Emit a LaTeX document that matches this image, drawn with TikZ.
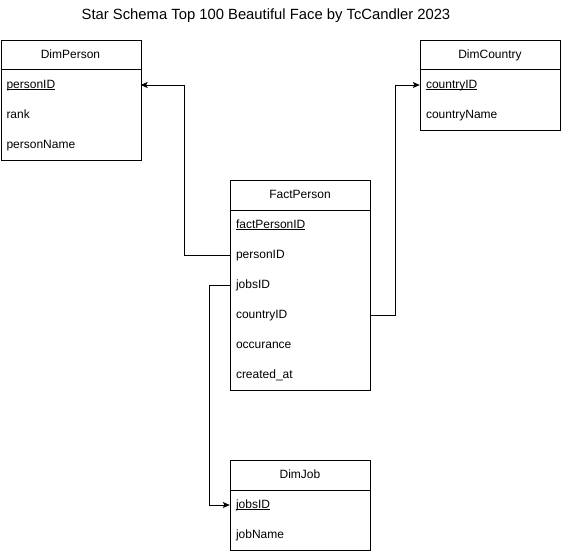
\documentclass[tikz,border=0pt]{standalone}
\usepackage{fontspec}
\setmainfont{Liberation Sans}
\usetikzlibrary{arrows.meta}
\tikzset{
  tbl/.style={draw=black, line width=1pt, fill=white, inner sep=0pt, minimum width=140pt, anchor=north west},
  hdr/.style={inner sep=0pt, minimum width=140pt, minimum height=30pt, text height=9pt, text depth=2.6pt, font=\fontsize{12}{14}\selectfont},
  row/.style={inner xsep=6pt, inner ysep=0pt, text width=128pt, align=left, minimum height=30pt, text height=9pt, text depth=2.6pt, font=\fontsize{12}{14}\selectfont},
  conn/.style={draw=black, line width=1pt},
  arr/.style={conn, -{Stealth[length=7pt,width=6pt,inset=1.5pt]}},
}
\newsavebox{\ukeybox}
\newcommand{\ukey}[1]{\sbox{\ukeybox}{#1}\rlap{\rule[-1.6pt]{\wd\ukeybox}{0.8pt}}\usebox{\ukeybox}}
\begin{document}
\begin{tikzpicture}[x=1pt,y=-1pt]
\useasboundingbox (0,0) rectangle (562,551);
\node[font=\fontsize{14.8}{18}\selectfont] (title) at (266,16) {Star Schema Top 100 Beautiful Face by TcCandler 2023};

% DimPerson
\node[tbl, minimum height=120pt] (dp) at (0.5,40) {};
\node[hdr] (dp-h) at (70.5,55) {DimPerson};
\draw[conn] (dp.west |- 0,70) -- (dp.east |- 0,70);
\node[row] (dp-personID) at (70.5,85) {\ukey{personID}};
\node[row] (dp-rank) at (70.5,115) {rank};
\node[row] (dp-personName) at (70.5,145) {personName};

% DimCountry
\node[tbl, minimum height=90pt] (dc) at (420,40) {};
\node[hdr] (dc-h) at (490,55) {DimCountry};
\draw[conn] (dc.west |- 0,70) -- (dc.east |- 0,70);
\node[row] (dc-countryID) at (490,85) {\ukey{countryID}};
\node[row] (dc-countryName) at (490,115) {countryName};

% FactPerson
\node[tbl, minimum height=210pt] (fp) at (230,180) {};
\node[hdr] (fp-h) at (300,195) {FactPerson};
\draw[conn] (fp.west |- 0,210) -- (fp.east |- 0,210);
\node[row] (fp-factPersonID) at (300,225) {\ukey{factPersonID}};
\node[row] (fp-personID) at (300,255) {personID};
\node[row] (fp-jobsID) at (300,285) {jobsID};
\node[row] (fp-countryID) at (300,315) {countryID};
\node[row] (fp-occurance) at (300,345) {occurance};
\node[row] (fp-created) at (300,375) {created\_at};

% DimJob
\node[tbl, minimum height=90pt] (dj) at (230,460) {};
\node[hdr] (dj-h) at (300,475) {DimJob};
\draw[conn] (dj.west |- 0,490) -- (dj.east |- 0,490);
\node[row] (dj-jobsID) at (300,505) {\ukey{jobsID}};
\node[row] (dj-jobName) at (300,535) {jobName};

% connectors
\draw[arr] (fp-personID.west) -- ++(-45,0) |- (dp-personID.east);
\draw[arr] (fp-countryID.east) -- ++(25,0) |- (dc-countryID.west);
\draw[arr] (fp-jobsID.west) -- ++(-20,0) |- (dj-jobsID.west);
\end{tikzpicture}
\end{document}
